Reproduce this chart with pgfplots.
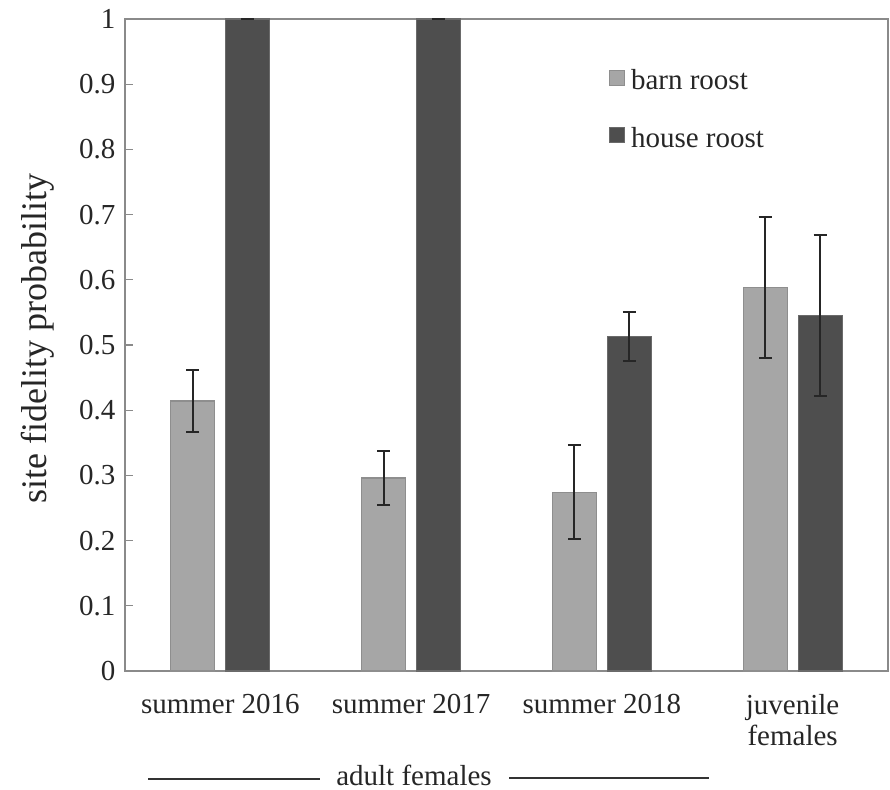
\documentclass[border=0pt]{standalone}
\usepackage{fontspec}
\setmainfont{Liberation Serif}
\usepackage{pgfplots}
\pgfplotsset{compat=1.18}

\definecolor{barn}{HTML}{A6A6A6}
\definecolor{barnedge}{HTML}{8E8E8E}
\definecolor{house}{HTML}{4E4E4E}
\definecolor{houseedge}{HTML}{6A6A6A}
\definecolor{frame}{HTML}{8A8A8A}
\definecolor{err}{HTML}{262626}

\begin{document}
\begin{tikzpicture}
\begin{axis}[
    scale only axis,
    width=763bp, height=652bp,
    ybar,
    bar width=0.2307,
    xmin=-0.5, xmax=3.5,
    ymin=0, ymax=1,
    ytick={0,0.1,...,1},
    xtick={0,1,2,3},
    xticklabels={summer 2016,summer 2017,summer 2018,juvenile\\females},
    /pgf/number format/assume math mode=true,
    axis line style={draw=frame, line width=1.5bp},
    ytick pos=left,
    tick align=inside,
    major tick length=8bp,
    tick style={draw=frame, line width=1.2bp},
    xtick style={draw=none},
    tick label style={font=\fontsize{29bp}{31bp}\selectfont, text=black!85},
    xticklabel style={align=center, anchor=north, yshift=-20bp},
    yticklabel style={xshift=-6bp},
    ylabel={site fidelity probability},
    every axis y label/.style={at={(axis description cs:-0.115,0.51)}, rotate=90,
        anchor=center, font=\fontsize{36bp}{40bp}\selectfont, text=black!85},
    legend style={at={(axis description cs:0.634,0.926)}, anchor=north west,
        draw=none, fill=none, font=\fontsize{29bp}{31bp}\selectfont,
        text=black!85, row sep=32bp, inner sep=0pt},
    legend cell align=left,
    clip=false,
]
\addplot[fill=barn, draw=barnedge, line width=1.2bp, bar shift=-0.1442,
    legend image code/.code={\draw[fill=barn, draw=barnedge, line width=1bp] (0bp,-5bp) rectangle (15bp,10bp); \path (19bp,0bp);},
    error bars/.cd, y dir=both, y explicit,
    error bar style={draw=err, line width=2bp},
    error mark options={rotate=90, mark size=6.5bp, line width=2bp, draw=err}]
    coordinates {
    (0,0.414) +- (0,0.048)
    (1,0.296) +- (0,0.041)
    (2,0.274) +- (0,0.072)
    (3,0.588) +- (0,0.108)
};
\addlegendentry{barn roost}
\addplot[fill=house, draw=houseedge, line width=1.2bp, bar shift=0.1442,
    legend image code/.code={\draw[fill=house, draw=houseedge, line width=1bp] (0bp,-5bp) rectangle (15bp,10bp); \path (19bp,0bp);},
    error bars/.cd, y dir=both, y explicit,
    error bar style={draw=err, line width=2bp},
    error mark options={rotate=90, mark size=6.5bp, line width=2bp, draw=err}]
    coordinates {
    (0,1.0) +- (0,0.0)
    (1,1.0) +- (0,0.0)
    (2,0.513) +- (0,0.037)
    (3,0.545) +- (0,0.123)
};
\addlegendentry{house roost}
\end{axis}
\pgfresetboundingbox
\begin{scope}[shift={(current axis.south west)}]
\draw[black!80, line width=1.3bp] (23bp,-108bp) -- (195bp,-108bp);
\draw[black!80, line width=1.3bp] (384bp,-107bp) -- (584bp,-107bp);
\node[anchor=base, inner sep=0pt, text=black!85, font=\fontsize{29bp}{31bp}\selectfont] at (289bp,-114bp) {adult females};
\path (-125bp,-119bp) rectangle (765bp,671bp);
\end{scope}
\end{tikzpicture}
\end{document}
